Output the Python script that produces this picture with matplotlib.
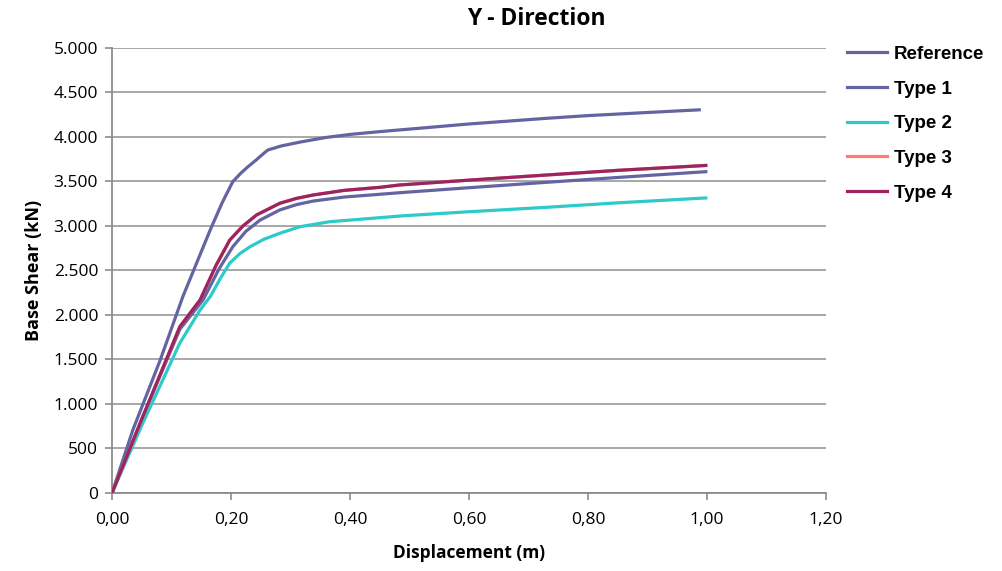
import matplotlib
matplotlib.use("Agg")
import matplotlib.pyplot as plt

ref_x = [0.0, 0.035, 0.081, 0.119, 0.165, 0.185, 0.203, 0.216, 0.228, 0.242, 0.254, 0.262, 0.285, 0.317, 0.360, 0.402, 0.450, 0.520, 0.600, 0.731, 0.800, 0.900, 0.987]
ref_y = [0, 708, 1494, 2206, 2955, 3260, 3498, 3590, 3663, 3740, 3810, 3854, 3900, 3944, 3995, 4030, 4060, 4100, 4146, 4210, 4240, 4275, 4305]

t1_x = [0.0, 0.05, 0.114, 0.153, 0.180, 0.203, 0.225, 0.249, 0.282, 0.310, 0.338, 0.390, 0.450, 0.484, 0.600, 0.731, 0.850, 0.998]
t1_y = [0, 830, 1840, 2169, 2520, 2767, 2940, 3067, 3180, 3240, 3280, 3325, 3356, 3374, 3430, 3491, 3545, 3610]

t2_x = [0.0, 0.05, 0.114, 0.148, 0.165, 0.182, 0.198, 0.215, 0.232, 0.255, 0.282, 0.316, 0.366, 0.450, 0.484, 0.600, 0.731, 0.850, 0.998]
t2_y = [0, 760, 1685, 2056, 2206, 2410, 2584, 2690, 2767, 2850, 2918, 2992, 3048, 3093, 3112, 3160, 3210, 3260, 3315]

t4_x = [0.0, 0.05, 0.114, 0.148, 0.175, 0.198, 0.220, 0.243, 0.282, 0.310, 0.338, 0.390, 0.450, 0.484, 0.600, 0.731, 0.850, 0.998]
t4_y = [0, 830, 1869, 2169, 2560, 2843, 3000, 3124, 3255, 3310, 3348, 3400, 3434, 3461, 3515, 3573, 3625, 3680]

# Type 3 lies under Type 4 in the picture
t3_x = t4_x
t3_y = t4_y

x_ticks = [0.0, 0.2, 0.4, 0.6, 0.8, 1.0, 1.2]
x_labels = ["0,00", "0,20", "0,40", "0,60", "0,80", "1,00", "1,20"]
y_ticks = [0, 500, 1000, 1500, 2000, 2500, 3000, 3500, 4000, 4500, 5000]
y_labels = ["0", "500", "1.000", "1.500", "2.000", "2.500", "3.000", "3.500", "4.000", "4.500", "5.000"]

font = ["Open Sans", "DejaVu Sans"]

fig = plt.figure(figsize=(10.03, 5.71), dpi=100)
ax = fig.add_axes([0.1117, 0.1366, 0.7118, 0.7794])

lw = 2.3
ax.plot(ref_x, ref_y, color="#6464a2", lw=lw, label="Reference", zorder=3)
ax.plot(t1_x, t1_y, color="#6464a2", lw=lw, label="Type 1", zorder=3)
ax.plot(t2_x, t2_y, color="#2ec9c9", lw=lw, label="Type 2", zorder=3)
ax.plot(t3_x, t3_y, color="#ff7b78", lw=lw, label="Type 3", zorder=3)
ax.plot(t4_x, t4_y, color="#9b2560", lw=lw, label="Type 4", zorder=4)

ax.set_xlim(0, 1.2)
ax.set_ylim(0, 5000)
ax.set_xticks(x_ticks)
ax.set_xticklabels(x_labels)
ax.set_yticks(y_ticks)
ax.set_yticklabels(y_labels)
for lab in ax.get_xticklabels() + ax.get_yticklabels():
    lab.set_fontfamily(font)
    lab.set_fontsize(12.5)

ax.grid(axis="y", color="#a0a0a0", lw=1.3)
ax.set_axisbelow(True)
for side in ["top", "right"]:
    ax.spines[side].set_visible(False)
for side in ["left", "bottom"]:
    ax.spines[side].set_color("#8c8c8c")
    ax.spines[side].set_linewidth(1.3)
ax.tick_params(axis="both", color="#8c8c8c", length=5, width=1.2)
ax.tick_params(axis="x", pad=9)
ax.tick_params(axis="y", pad=5)

fig.text(0.535, 0.966, "Y - Direction", fontsize=16.5, fontweight="bold",
         family=font, ha="center", va="center")
ax.set_xlabel("Displacement (m)", fontsize=12.5, fontweight="bold",
              family=font, labelpad=11)
ax.set_ylabel("Base Shear (kN)", fontsize=13, fontweight="bold",
              family=font, labelpad=8)

leg = fig.legend(loc="upper left", bbox_to_anchor=(0.844, 0.920), frameon=False,
                 prop={"family": "Liberation Sans", "weight": "bold", "size": 13.5},
                 handlelength=2.15, labelspacing=0.94, handletextpad=0.38,
                 borderaxespad=0, borderpad=0)

fig.savefig("out.png", dpi=100)
